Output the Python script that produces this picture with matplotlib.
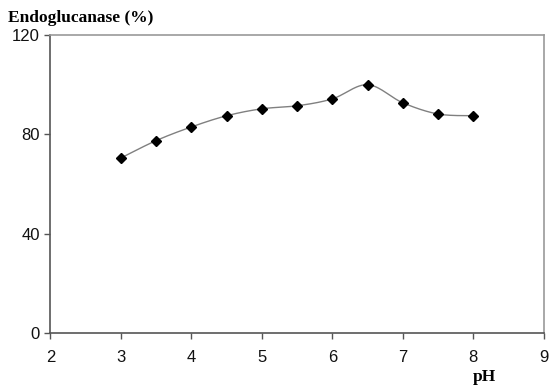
import matplotlib.pyplot as plt
import numpy as np

ph = [3, 3.5, 4, 4.5, 5, 5.5, 6, 6.5, 7, 7.5, 8]
activity = [70.5, 77.5, 83, 87.5, 90.3, 91.5, 94.3, 100, 92.7, 88.2, 87.5]
x_ticks = [2, 3, 4, 5, 6, 7, 8, 9]
y_ticks = [0, 40, 80, 120]


def smooth_line(xs, ys, n=30):
    # Excel-style smoothed line (Catmull-Rom through the points)
    xs = np.asarray(xs, float)
    ys = np.asarray(ys, float)
    px = np.concatenate([[xs[0]], xs, [xs[-1]]])
    py = np.concatenate([[ys[0]], ys, [ys[-1]]])
    out_x, out_y = [], []
    t = np.linspace(0, 1, n)
    for i in range(1, len(px) - 2):
        p0x, p1x, p2x, p3x = px[i - 1:i + 3]
        p0y, p1y, p2y, p3y = py[i - 1:i + 3]
        cx = 0.5 * (2 * p1x + (-p0x + p2x) * t + (2 * p0x - 5 * p1x + 4 * p2x - p3x) * t**2
                    + (-p0x + 3 * p1x - 3 * p2x + p3x) * t**3)
        cy = 0.5 * (2 * p1y + (-p0y + p2y) * t + (2 * p0y - 5 * p1y + 4 * p2y - p3y) * t**2
                    + (-p0y + 3 * p1y - 3 * p2y + p3y) * t**3)
        out_x.extend(cx)
        out_y.extend(cy)
    return out_x, out_y


fig = plt.figure(figsize=(5.5, 3.85), dpi=100)
ax = fig.add_axes([0.0918, 0.135, 0.897, 0.774])

sx, sy = smooth_line(ph, activity)
ax.plot(sx, sy, color='#808080', lw=1.0, zorder=2)
ax.plot(ph, activity, ls='none', marker='D', ms=5.5, color='black', zorder=3)

ax.set_xlim(2, 9)
ax.set_ylim(0, 120)
ax.set_xticks(x_ticks)
ax.set_yticks(y_ticks)
ax.tick_params(direction='out', length=4, width=1, color='#555555',
               labelsize=12, labelcolor='#111111')
for lab in ax.get_xticklabels() + ax.get_yticklabels():
    lab.set_family('Liberation Sans')
ax.tick_params(axis='x', pad=8)

for side in ['left', 'bottom']:
    ax.spines[side].set_color('#555555')
    ax.spines[side].set_linewidth(1.2)
for side in ['top', 'right']:
    ax.spines[side].set_color('#999999')
    ax.spines[side].set_linewidth(1.2)

fig.text(8 / 550, 1 - 18 / 385, 'Endoglucanase (%)', family='Liberation Serif',
         fontweight='bold', fontsize=12.5, va='center', ha='left')
fig.text(484 / 550, 1 - 377 / 385, 'pH', family='Liberation Serif',
         fontweight='bold', fontsize=12.5, va='center', ha='center')

fig.savefig('out.png', dpi=100)
